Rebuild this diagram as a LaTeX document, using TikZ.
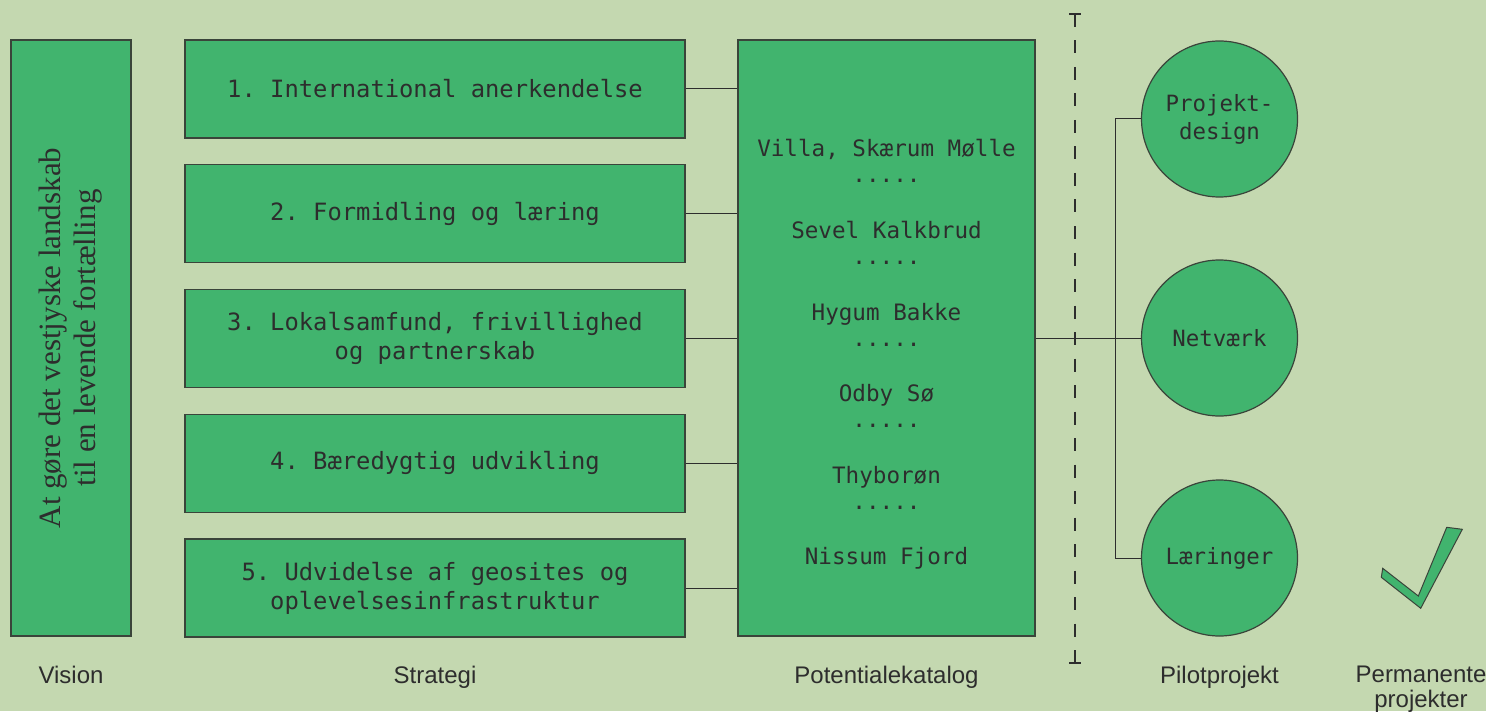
\documentclass[tikz,border=0pt]{standalone}
\usepackage{fontspec}
\newfontfamily\boxfont{DejaVu Sans Mono}
\newfontfamily\capfont{Liberation Sans}
\newfontfamily\visfont{Liberation Serif}
\definecolor{bggreen}{RGB}{196,216,176}
\definecolor{boxgreen}{RGB}{65,180,110}
\definecolor{ink}{RGB}{45,45,45}
\definecolor{edge}{RGB}{58,68,58}
\frenchspacing

\begin{document}
\begin{tikzpicture}[x=0.5pt, y=-0.5pt,
  greenbox/.style={draw=edge, line width=0.6pt, fill=boxgreen, text=ink, inner sep=0pt},
  stratbox/.style={greenbox, minimum width=250pt, minimum height=49pt, align=center,
    font=\boxfont\fontsize{11.9}{14.5}\selectfont},
  pilot/.style={greenbox, circle, minimum size=78pt, align=center,
    font=\boxfont\fontsize{11.2}{14}\selectfont},
  place/.style={text=ink, inner sep=0pt, anchor=base, font=\boxfont\fontsize{11.3}{13}\selectfont},
  caption/.style={text=ink, inner sep=0pt, anchor=north, align=center,
    font=\capfont\fontsize{12}{12.5}\selectfont},
  link/.style={draw=ink, line width=0.5pt},
  divider/.style={draw=ink, line width=1.35pt, dash pattern=on 6.5pt off 6.75pt}
]

  \fill[bggreen] (0,0) rectangle (1486,711);
  \useasboundingbox (0,0) rectangle (1486,711);

  % vision
  \node[greenbox, rotate=90, minimum width=298pt, minimum height=60pt, align=center,
    font=\visfont\fontsize{15.5}{17.5}\selectfont] (vision) at (71,338)
    {At gøre det vestjyske landskab\\til en levende fortælling};

  % strategi
  \foreach \i/\txt in {1/{1. International anerkendelse},
                       2/{2. Formidling og læring},
                       3/{3. Lokalsamfund, frivillighed\\og partnerskab},
                       4/{4. Bæredygtig udvikling},
                       5/{5. Udvidelse af geosites og\\oplevelsesinfrastruktur}} {
    \node[stratbox] (s\i) at (435, {89+124.75*(\i-1)}) {\txt};
  }

  % potentialekatalog
  \node[greenbox, minimum width=148.5pt, minimum height=298pt] (cat) at (886.5,338) {};
  \foreach \nm [count=\k] in {{Villa, Skærum Mølle}, Sevel Kalkbrud, Hygum Bakke,
                             Odby Sø, Thyborøn, Nissum Fjord} {
    \node[place] (site\k) at (886.5, {157+81.5*(\k-1)}) {\nm};
  }
  \foreach \k in {1,...,5}
    \node[place] (dots\k) at (886.5, {183+81.5*(\k-1)}) {.....};

  \foreach \i in {1,...,5}
    \draw[link] (s\i.east) -- (s\i.east -| cat.west);

  % skillelinje
  \draw[divider] (1075,14) -- (1075,663);
  \draw[ink, line width=1.35pt] (1069,14) -- (1081,14);
  \draw[ink, line width=1.35pt] (1069,663) -- (1081,663);

  % pilotprojekter
  \node[pilot] (p1) at (1219.5,119) {Projekt-\\design};
  \node[pilot] (p2) at (1219.5,338) {Netværk};
  \node[pilot] (p3) at (1219.5,558) {Læringer};

  \coordinate (hub) at (1115,338);
  \draw[link] (cat.east) -- (p2.west);
  \draw[link] (hub |- p1) -- (hub |- p3);
  \draw[link] (hub |- p1) -- (p1.west);
  \draw[link] (hub |- p3) -- (p3.west);

  % permanente projekter
  \filldraw[fill=boxgreen, draw=edge, line width=0.5pt]
    (1382.7,568.3) -- (1418.3,596) -- (1446.7,527.3) -- (1462.3,529.3)
    -- (1420.7,608.3) -- (1381.3,577.3) -- cycle;

  % captions
  \node[caption] (cap-vision) at (71,666) {Vision};
  \node[caption] (cap-strategi) at (435,666) {Strategi};
  \node[caption] (cap-katalog) at (886.5,666) {Potentialekatalog};
  \node[caption] (cap-pilot) at (1219.5,666) {Pilotprojekt};
  \node[caption] (cap-perm) at (1421,666) {Permanente\\projekter};

\end{tikzpicture}
\end{document}
